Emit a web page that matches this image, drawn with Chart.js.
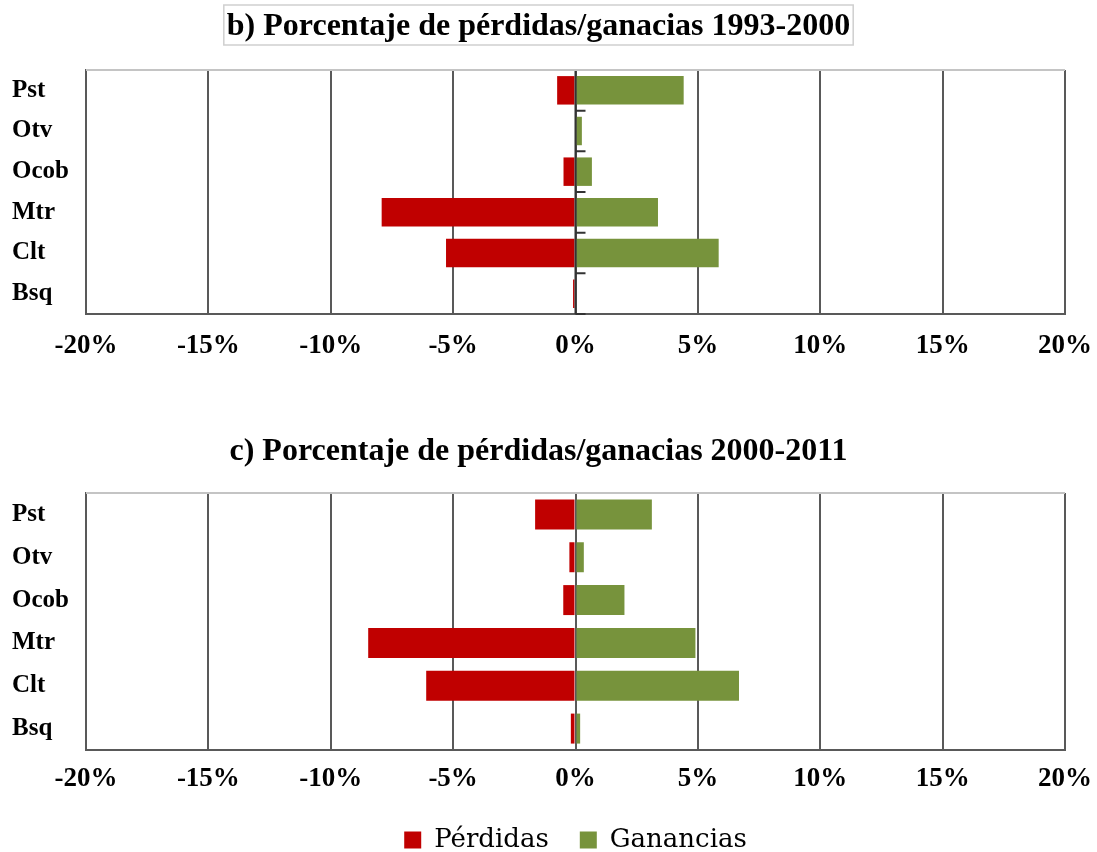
<!DOCTYPE html>
<html>
<head>
<meta charset="utf-8">
<script src="https://cdn.jsdelivr.net/npm/chart.js@4"></script>
<style>
  body { margin: 0; background: #fff; overflow: hidden; width: 1097px; height: 852px; position: relative; }
  #top { position: absolute; left: 0; top: 0; width: 1097px; height: 380px; }
  #bottom { position: absolute; left: 0; top: 415px; width: 1097px; height: 451px; }
</style>
</head>
<body>
<div id="top"><canvas id="chartB"></canvas></div>
<div id="bottom"><canvas id="chartC"></canvas></div>
<script>
const categories = ['Pst', 'Otv', 'Ocob', 'Mtr', 'Clt', 'Bsq'];
const xTicks = [-20, -15, -10, -5, 0, 5, 10, 15, 20];
const seriesNames = ['Pérdidas', 'Ganancias'];

// 1993-2000 (%)
const perdidas9300 = [-0.75, 0, -0.49, -7.92, -5.29, -0.1];
const ganancias9300 = [4.42, 0.26, 0.67, 3.37, 5.85, 0];

// 2000-2011 (%)
const perdidas0011 = [-1.65, -0.25, -0.5, -8.47, -6.1, -0.19];
const ganancias0011 = [3.12, 0.34, 2.0, 4.9, 6.68, 0.19];

const RED = '#C00000';
const GREEN = '#77933C';
const GRID = '#595959';

Chart.defaults.font.family = "'Liberation Serif', 'DejaVu Serif', serif";
Chart.defaults.color = '#000';

// light grey top edge of the plot frame
const frameTop = {
  id: 'frameTop',
  afterDraw(chart) {
    const { ctx, chartArea } = chart;
    ctx.save();
    ctx.strokeStyle = '#c4c4c4';
    ctx.lineWidth = 2;
    ctx.beginPath();
    ctx.moveTo(chartArea.left, chartArea.top);
    ctx.lineTo(chartArea.right, chartArea.top);
    ctx.stroke();
    ctx.restore();
  }
};

// small category ticks on the zero line (top chart only)
const zeroTicks = {
  id: 'zeroTicks',
  afterDatasetsDraw(chart) {
    const { ctx, scales } = chart;
    const x0 = scales.x.getPixelForValue(0);
    ctx.save();
    ctx.strokeStyle = '#333';
    ctx.lineWidth = 2;
    ctx.beginPath();
    ctx.moveTo(x0, chart.chartArea.top);
    ctx.lineTo(x0, chart.chartArea.bottom);
    for (let i = 0; i <= categories.length; i++) {
      const y = scales.y.getPixelForValue(i - 0.5);
      ctx.moveTo(x0, y);
      ctx.lineTo(x0 + 10, y);
    }
    ctx.stroke();
    ctx.restore();
  }
};

// faint box round the top title
const titleBox = {
  id: 'titleBox',
  afterDraw(chart) {
    const tb = chart.titleBlock;
    const ctx = chart.ctx;
    const text = chart.options.plugins.title.text;
    ctx.save();
    ctx.font = "bold 32px 'Liberation Serif'";
    const w = ctx.measureText(text).width;
    const cx = (tb.left + tb.right) / 2;
    ctx.strokeStyle = '#cfcfcf';
    ctx.lineWidth = 1.5;
    ctx.strokeRect(cx - w / 2 - 3, 5, w + 6, 40);
    ctx.restore();
  }
};

function makeChart(id, title, perdidas, ganancias, opts) {
  return new Chart(document.getElementById(id), {
    type: 'bar',
    data: {
      labels: categories,
      datasets: [
        { label: seriesNames[0], data: perdidas, backgroundColor: RED, barPercentage: 0.7, categoryPercentage: 1.0 },
        { label: seriesNames[1], data: ganancias, backgroundColor: GREEN, barPercentage: 0.7, categoryPercentage: 1.0 }
      ]
    },
    options: {
      indexAxis: 'y',
      responsive: true,
      maintainAspectRatio: false,
      animation: false,
      layout: { padding: { left: 12, right: 32, top: 0, bottom: opts.padBottom } },
      scales: {
        x: {
          stacked: true,
          min: -20,
          max: 20,
          afterBuildTicks(scale) { scale.ticks = xTicks.map(v => ({ value: v })); },
          afterFit(scale) {
            scale.height = opts.axisHeight;
            scale.paddingLeft = 0;
            scale.paddingRight = 0;
          },
          ticks: {
            padding: opts.tickPad,
            maxRotation: 0,
            font: { size: 27, weight: 'bold' },
            color: '#000',
            callback: v => v + '%'
          },
          grid: { color: GRID, lineWidth: 2, drawTicks: false },
          border: { color: GRID, width: 2 }
        },
        y: {
          stacked: true,
          afterFit(scale) { scale.width = 74; },
          ticks: {
            crossAlign: 'far',
            font: { size: 25, weight: 'bold' },
            color: '#000'
          },
          grid: { display: false },
          border: { color: GRID, width: 2 }
        }
      },
      plugins: {
        title: {
          display: true,
          text: title,
          color: '#000',
          font: { size: 32, weight: 'bold' },
          padding: { top: opts.titleTop, bottom: opts.titleBottom }
        },
        legend: opts.legend,
        tooltip: { enabled: false }
      }
    },
    plugins: opts.plugins
  });
}

makeChart('chartB', 'b) Porcentaje de pérdidas/ganacias 1993-2000', perdidas9300, ganancias9300, {
  padBottom: 19, tickPad: 16, axisHeight: 47, titleTop: 8, titleBottom: 23.6,
  legend: { display: false },
  plugins: [frameTop, zeroTicks, titleBox]
});

makeChart('chartC', 'c) Porcentaje de pérdidas/ganacias 2000-2011', perdidas0011, ganancias0011, {
  padBottom: 3, tickPad: 13, axisHeight: 46, titleTop: 18, titleBottom: 21.6,
  legend: {
    display: true,
    position: 'bottom',
    fullSize: false,
    labels: {
      boxWidth: 17,
      boxHeight: 17,
      padding: 31,
      color: '#000',
      font: { family: "'DejaVu Serif', serif", size: 26 }
    }
  },
  plugins: [frameTop]
});
</script>
</body>
</html>
